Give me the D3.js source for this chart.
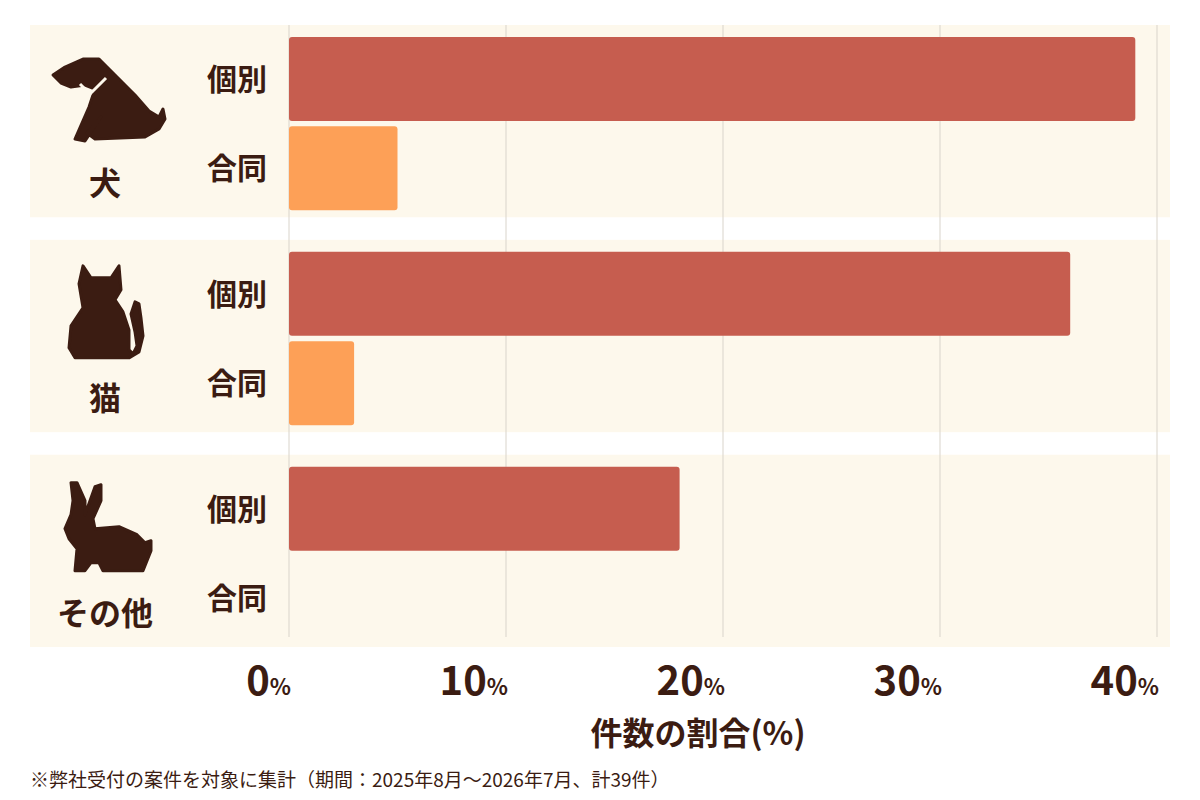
<!DOCTYPE html>
<html><head><meta charset="utf-8">
<script src="https://cdn.jsdelivr.net/npm/d3@7"></script>
<style>body{margin:0;background:#fff;}</style>
</head><body>
<script>
var categories = ["犬", "猫", "その他"];
var kinds = ["個別", "合同"];
var values_kobetsu = [39, 36, 18];
var values_godo = [5, 3, 0];
var ticks = [0, 10, 20, 30, 40];
var note = "※弊社受付の案件を対象に集計（期間：2025年8月～2026年7月、計39件）";

var width = 1200, height = 800;
var font = "'Noto Sans CJK JP', sans-serif";
var ink = "#3b1c12";

var svg = d3.select("body").append("svg").attr("width", width).attr("height", height);

var x = d3.scaleLinear().domain([0, 40]).range([289, 1157]);
var y = d3.scaleBand().domain(categories).range([25, 647]).paddingInner(0.105).paddingOuter(0);
var yk = d3.scaleBand().domain(kinds).range([12, y.bandwidth() - 7]).paddingInner(0.06);

var rows = [];
categories.forEach(function(c, i) {
    rows.push({cat: c, kind: "個別", v: values_kobetsu[i]});
    rows.push({cat: c, kind: "合同", v: values_godo[i]});
});

svg.selectAll("rect.panel").data(categories).enter().append("rect")
    .attr("class", "panel")
    .attr("x", 30).attr("width", 1140)
    .attr("y", function(d) { return y(d); })
    .attr("height", y.bandwidth())
    .attr("fill", "#fdf8ec");

svg.selectAll("line.grid").data(ticks).enter().append("line")
    .attr("x1", function(d) { return x(d); }).attr("x2", function(d) { return x(d); })
    .attr("y1", 25).attr("y2", 637)
    .attr("stroke", "#d9d4cb").attr("stroke-width", 1);

svg.selectAll("rect.bar").data(rows).enter().append("rect")
    .attr("class", "bar")
    .attr("x", x(0))
    .attr("y", function(d) { return y(d.cat) + yk(d.kind); })
    .attr("width", function(d) { return x(d.v) - x(0); })
    .attr("height", yk.bandwidth())
    .attr("rx", 3)
    .attr("fill", function(d) { return d.kind == "個別" ? "#c65d4f" : "#fda057"; });

svg.selectAll("text.kind").data(rows).enter().append("text")
    .attr("x", 237)
    .attr("y", function(d) { return y(d.cat) + yk(d.kind) + yk.bandwidth() / 2 + 11; })
    .attr("text-anchor", "middle")
    .attr("font-family", font).attr("font-weight", 700).attr("font-size", "30px")
    .attr("fill", ink)
    .text(function(d) { return d.kind; });

svg.selectAll("text.cat").data(categories).enter().append("text")
    .attr("x", 105)
    .attr("y", function(d) { return y(d) + 170; })
    .attr("text-anchor", "middle")
    .attr("font-family", font).attr("font-weight", 700).attr("font-size", "32px")
    .attr("fill", ink)
    .text(function(d) { return d; });

// icons
var icons = [
    // dog
    "M-52,-22 L-40,-30 L-22,-38 L-6,-38 L8,-24 L20,-12 L30,-2 L44,14 L54,20 L58,12 L60,22 L54,32 L40,40 L-10,42 L-18,36 L-4,20 L-20,44 L-30,42 L-16,10 L-10,-8 L-20,-12 L-34,-10 L-44,-14 Z",
    // cat
    "M-22,-46 L-14,-34 L6,-34 L14,-46 L16,-22 L10,-12 L18,0 L24,18 L24,38 L28,42 L32,34 L30,20 L26,2 L30,-10 L34,-8 L36,6 L38,24 L34,40 L24,46 L-30,46 L-36,36 L-34,14 L-22,-4 L-24,-16 L-26,-28 Z",
    // rabbit
    "M-34,-44 L-28,-44 L-20,-26 L-20,-12 L-10,-40 L-4,-42 L-4,-26 L-12,-8 L-10,2 L14,0 L32,8 L40,16 L46,14 L46,24 L42,34 L38,44 L-2,44 L-6,36 L-14,36 L-20,44 L-30,44 L-28,22 L-36,12 L-40,2 L-34,-12 L-32,-26 Z"
];
svg.selectAll("path.icon").data(categories).enter().append("path")
    .attr("transform", function(d) { return "translate(105," + (y(d) + 72) + ")"; })
    .attr("d", function(d, i) { return icons[i]; })
    .attr("fill", "#3b1c12").attr("stroke", "#3b1c12").attr("stroke-width", 3).attr("stroke-linejoin", "round");
svg.append("path")
    .attr("d", "M80,84 L90,94 L106,78")
    .attr("fill", "none").attr("stroke", "#fdf8ec").attr("stroke-width", 3);

var tl = svg.selectAll("text.tick").data(ticks).enter().append("text")
    .attr("x", function(d) { return x(d) + 2; })
    .attr("y", 695)
    .attr("text-anchor", "end")
    .attr("font-family", font).attr("font-weight", 700)
    .attr("fill", ink);
tl.append("tspan").attr("font-size", "40px").text(function(d) { return d; });
tl.append("tspan").attr("font-size", "22px").text("%");

svg.append("text")
    .attr("x", 698).attr("y", 745)
    .attr("text-anchor", "middle")
    .attr("font-family", font).attr("font-weight", 700).attr("font-size", "32px")
    .attr("fill", ink)
    .text("件数の割合(%)");

svg.append("text")
    .attr("x", 30).attr("y", 787)
    .attr("font-family", font).attr("font-size", "19px")
    .attr("fill", ink)
    .text(note);
</script>
</body></html>
